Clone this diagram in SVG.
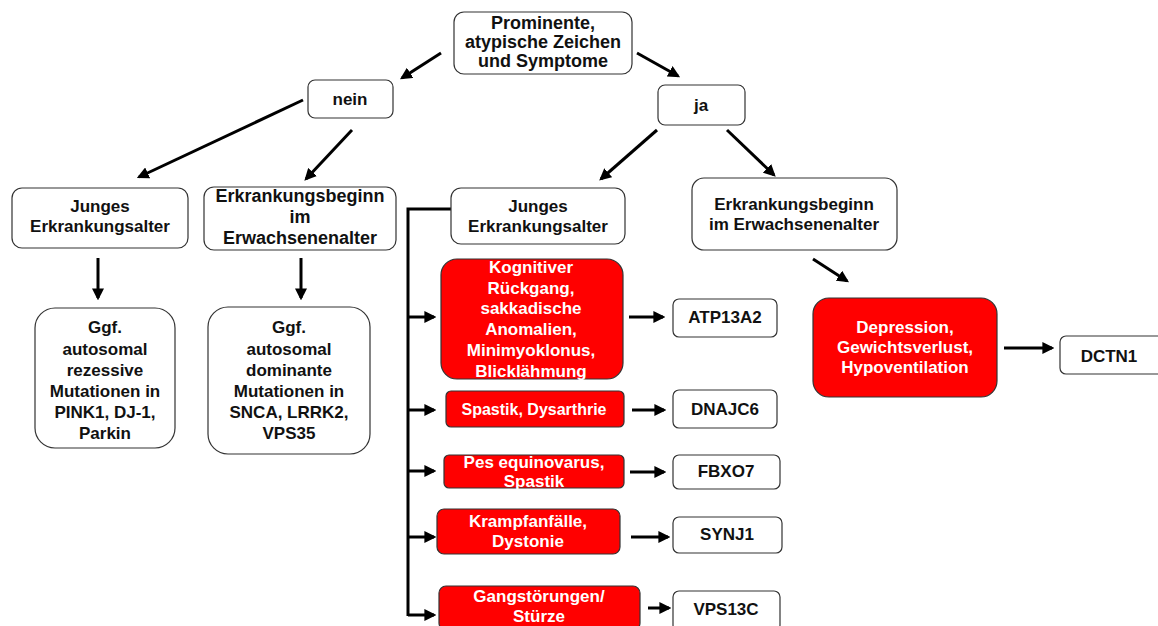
<svg xmlns="http://www.w3.org/2000/svg" width="1158" height="626" viewBox="0 0 1158 626">
<style>
.b{fill:#fff;stroke:#333;stroke-width:1.2}
.r{fill:#f00;stroke:#333;stroke-width:1.2}
text{font-family:"Liberation Sans",Arial,sans-serif;font-weight:bold;font-size:17px;text-anchor:middle}
.w{fill:#fff}
.k{fill:#111}
.c{stroke:#000;stroke-width:3;fill:none}
</style>
<defs>
<marker id="ah" viewBox="0 0 10 10" refX="8" refY="5" markerWidth="4" markerHeight="4" orient="auto" markerUnits="strokeWidth">
<path d="M0,0 L10,5 L0,10 z" fill="#000"/>
</marker>
</defs>
<rect width="1158" height="626" fill="#fff"/>
<g id="connectors">
<line class="c" x1="441" y1="53" x2="402" y2="78" marker-end="url(#ah)"/>
<line class="c" x1="637" y1="53" x2="678" y2="76" marker-end="url(#ah)"/>
<line class="c" x1="303" y1="100" x2="139" y2="177" marker-end="url(#ah)"/>
<line class="c" x1="352" y1="130" x2="306" y2="179" marker-end="url(#ah)"/>
<line class="c" x1="657" y1="130" x2="601" y2="179" marker-end="url(#ah)"/>
<line class="c" x1="727" y1="130" x2="774" y2="175" marker-end="url(#ah)"/>
<line class="c" x1="98" y1="258" x2="98" y2="298" marker-end="url(#ah)"/>
<line class="c" x1="301" y1="258" x2="301" y2="298" marker-end="url(#ah)"/>
<line class="c" x1="813" y1="259" x2="847" y2="281" marker-end="url(#ah)"/>
<line class="c" x1="1004" y1="348" x2="1052" y2="348" marker-end="url(#ah)"/>
<polyline class="c" points="451,209 408,209 408,616"/>
<line class="c" x1="408" y1="317" x2="434" y2="317" marker-end="url(#ah)"/>
<line class="c" x1="408" y1="410" x2="434" y2="410" marker-end="url(#ah)"/>
<line class="c" x1="408" y1="471" x2="434" y2="471" marker-end="url(#ah)"/>
<line class="c" x1="408" y1="537" x2="434" y2="537" marker-end="url(#ah)"/>
<line class="c" x1="408" y1="615" x2="434" y2="615" marker-end="url(#ah)"/>
<line class="c" x1="629" y1="317" x2="663" y2="317" marker-end="url(#ah)"/>
<line class="c" x1="632" y1="410" x2="664" y2="410" marker-end="url(#ah)"/>
<line class="c" x1="630" y1="472" x2="664" y2="472" marker-end="url(#ah)"/>
<line class="c" x1="631" y1="537" x2="668" y2="537" marker-end="url(#ah)"/>
<line class="c" x1="648" y1="608" x2="669" y2="608" marker-end="url(#ah)"/>
</g>
<g id="top"><rect class="b" x="454" y="12" width="178" height="62" rx="10"/>
<text class="k" x="543" y="29" style="font-size:18px">Prominente,</text><text class="k" x="543" y="48" style="font-size:18px">atypische Zeichen</text><text class="k" x="543" y="67" style="font-size:18px">und Symptome</text></g>
<g id="nein"><rect class="b" x="308" y="80" width="85" height="38" rx="7"/><text class="k" x="350" y="105">nein</text></g>
<g id="ja"><rect class="b" x="658" y="85" width="87" height="40" rx="7"/><text class="k" x="701" y="111">ja</text></g>
<g id="junges-l"><rect class="b" x="12" y="188" width="176" height="60" rx="10"/><text class="k" x="100" y="212">Junges</text><text class="k" x="100" y="232">Erkrankungsalter</text></g>
<g id="erw-l"><rect class="b" x="204" y="187" width="192" height="63" rx="10"/><text class="k" x="300" y="202" style="font-size:18px">Erkrankungsbeginn</text><text class="k" x="300" y="223" style="font-size:18px">im</text><text class="k" x="300" y="244" style="font-size:18px">Erwachsenenalter</text></g>
<g id="rez"><rect class="b" x="35" y="308" width="140" height="140" rx="20"/>
<text class="k" x="105" y="333">Ggf.</text><text class="k" x="105" y="355">autosomal</text><text class="k" x="105" y="376">rezessive</text><text class="k" x="105" y="397">Mutationen in</text><text class="k" x="105" y="418">PINK1, DJ-1,</text><text class="k" x="105" y="439">Parkin</text></g>
<g id="dom"><rect class="b" x="208" y="307" width="162" height="147" rx="20"/>
<text class="k" x="289" y="333">Ggf.</text><text class="k" x="289" y="355">autosomal</text><text class="k" x="289" y="376">dominante</text><text class="k" x="289" y="397">Mutationen in</text><text class="k" x="289" y="418">SNCA, LRRK2,</text><text class="k" x="289" y="439">VPS35</text></g>
<g id="junges-r"><rect class="b" x="451" y="188" width="174" height="56" rx="10"/><text class="k" x="538" y="212">Junges</text><text class="k" x="538" y="232">Erkrankungsalter</text></g>
<g id="erw-r"><rect class="b" x="692" y="178" width="205" height="72" rx="12"/><text class="k" x="794" y="210">Erkrankungsbeginn</text><text class="k" x="794" y="230">im Erwachsenenalter</text></g>
<g id="kog"><rect class="r" x="441" y="259" width="182" height="120" rx="16"/>
<text class="w" x="531" y="273">Kognitiver</text><text class="w" x="531" y="294">Rückgang,</text><text class="w" x="531" y="314">sakkadische</text><text class="w" x="531" y="335">Anomalien,</text><text class="w" x="531" y="356">Minimyoklonus,</text><text class="w" x="531" y="377">Blicklähmung</text></g>
<g id="atp"><rect class="b" x="673" y="299" width="104" height="38" rx="6"/><text class="k" x="725" y="323">ATP13A2</text></g>
<g id="spa"><rect class="r" x="446" y="391" width="178" height="36" rx="5"/><text class="w" x="534" y="415" style="font-size:16px">Spastik, Dysarthrie</text></g>
<g id="dna"><rect class="b" x="673" y="390" width="104" height="38" rx="6"/><text class="k" x="725" y="415">DNAJC6</text></g>
<g id="pes"><rect class="r" x="444" y="455" width="180" height="33" rx="5"/><text class="w" x="534" y="468">Pes equinovarus,</text><text class="w" x="534" y="487">Spastik</text></g>
<g id="fbx"><rect class="b" x="673" y="455" width="107" height="34" rx="6"/><text class="k" x="726" y="477">FBXO7</text></g>
<g id="kra"><rect class="r" x="437" y="509" width="183" height="45" rx="7"/><text class="w" x="528" y="527">Krampfanfälle,</text><text class="w" x="528" y="547">Dystonie</text></g>
<g id="syn"><rect class="b" x="673" y="517" width="109" height="36" rx="6"/><text class="k" x="727" y="540">SYNJ1</text></g>
<g id="gan"><rect class="r" x="439" y="586" width="201" height="44" rx="7"/><text class="w" x="539" y="602">Gangstörungen/</text><text class="w" x="539" y="622">Stürze</text></g>
<g id="vps"><rect class="b" x="673" y="591" width="107" height="40" rx="6"/><text class="k" x="726" y="615">VPS13C</text></g>
<g id="dep"><rect class="r" x="813" y="298" width="184" height="99" rx="16"/><text class="w" x="905" y="333">Depression,</text><text class="w" x="905" y="353">Gewichtsverlust,</text><text class="w" x="905" y="373">Hypoventilation</text></g>
<g id="dct"><rect class="b" x="1060" y="336" width="106" height="38" rx="6"/><text class="k" x="1109" y="362">DCTN1</text></g>
</svg>
